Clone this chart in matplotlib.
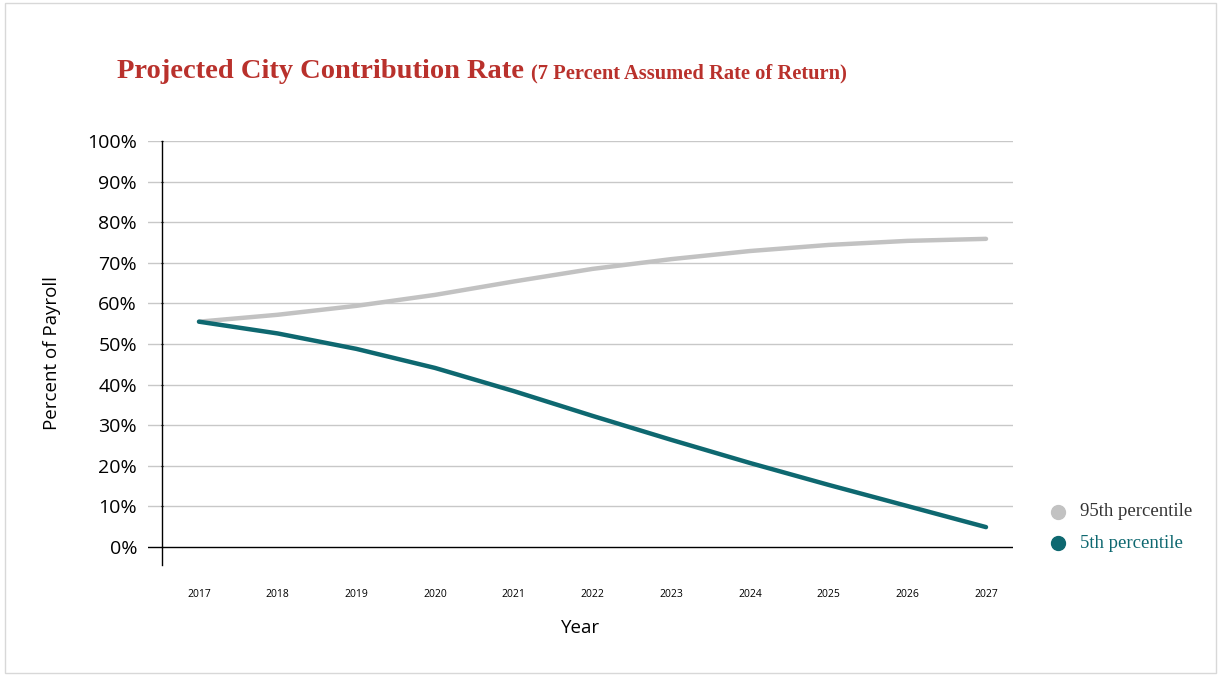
import matplotlib.pyplot as plt
from matplotlib.patches import Rectangle

# data
years = [2017, 2018, 2019, 2020, 2021, 2022, 2023, 2024, 2025, 2026, 2027]
pct95 = [55.5, 57.2, 59.4, 62.1, 65.4, 68.5, 70.9, 72.9, 74.4, 75.4, 75.9]
pct5 = [55.5, 52.6, 48.8, 44.1, 38.4, 32.3, 26.4, 20.7, 15.3, 10.1, 4.9]
yticks = [0, 10, 20, 30, 40, 50, 60, 70, 80, 90, 100]
series_names = ['95th percentile', '5th percentile']

gray = '#c2c2c2'
teal = '#0e6870'
red = '#b9312c'

fig = plt.figure(figsize=(12.21, 6.75), dpi=100)
fig.patches.append(Rectangle((0.004, 0.003), 0.992, 0.992, transform=fig.transFigure,
                             fill=False, edgecolor='#d8d8d8', linewidth=1))

ax = fig.add_axes([148/1221, 1-565/675, (1013-148)/1221, (565-141)/675])
ax.set_xlim(2016.352, 2027.343)
ax.set_ylim(-4.43, 100)

for v in yticks[1:]:
    ax.axhline(v, color='#c8c8c8', linewidth=1, zorder=1)
ax.axhline(0, color='black', linewidth=1, zorder=1)

ax.plot(years, pct95, color=gray, linewidth=3.2, solid_capstyle='round', zorder=3)
ax.plot(years, pct5, color=teal, linewidth=3.2, solid_capstyle='round', zorder=4)

for s in ['top', 'right', 'bottom']:
    ax.spines[s].set_visible(False)
ax.spines['left'].set_position(('data', 2016.53))
ax.spines['left'].set_linewidth(1)

ax.set_yticks(yticks)
ax.set_yticklabels([f'{v}%' for v in yticks], fontsize=14, fontfamily='Open Sans')
ax.tick_params(axis='y', length=2, direction='inout', pad=17)
ax.set_xticks(years)
ax.set_xticklabels([str(y) for y in years], fontsize=7.5, fontfamily='Open Sans')
ax.tick_params(axis='x', length=0, pad=17)

ax.set_xlabel('Year', fontsize=13.5, fontfamily='Open Sans', labelpad=14)
ax.set_ylabel('Percent of Payroll', fontsize=13.5, fontfamily='Open Sans', labelpad=19)

fig.text(117/1221, 1-78/675, 'Projected City Contribution Rate', color=red,
         fontsize=20.5, fontfamily='Liberation Serif', fontweight='bold', va='baseline')
fig.text(531/1221, 1-78/675, '(7 Percent Assumed Rate of Return)', color=red,
         fontsize=14.8, fontfamily='Liberation Serif', fontweight='bold', va='baseline')

# legend
for i, (name, c, tc) in enumerate(zip(series_names, [gray, teal], ['#333333', teal])):
    yy = 1 - (512 + 31*i)/675
    fig.add_artist(plt.Line2D([1058/1221], [yy], marker='o', markersize=10,
                              color=c, linestyle='none', transform=fig.transFigure))
    fig.text(1080/1221, yy, name, color=tc, fontsize=13.5,
             fontfamily='Liberation Serif', va='center')

fig.savefig('out.png', dpi=100)
